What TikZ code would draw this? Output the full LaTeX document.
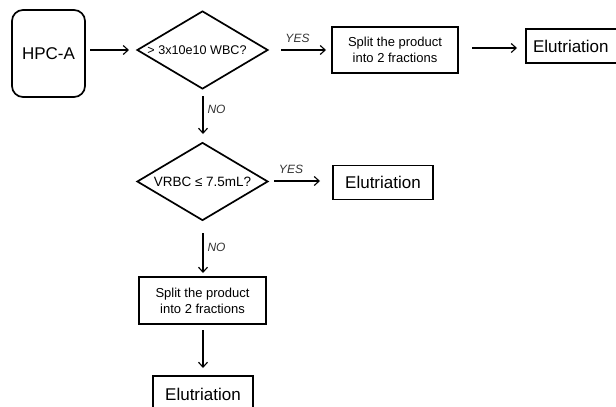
\documentclass[tikz,border=0pt]{standalone}
\usepackage{fontspec}
\setmainfont{Liberation Sans}
\usetikzlibrary{shapes.geometric,arrows.meta}
\begin{document}
\begin{tikzpicture}[x=1pt,y=-1pt,
  box/.style={draw,line width=1.7pt,inner sep=0pt,align=center},
  dia/.style={draw,line width=1.7pt,diamond,aspect=1.68,inner sep=0pt,minimum width=131pt,minimum height=78pt},
  conn/.style={line width=1.1pt,-{Straight Barb[length=5pt,width=9pt,line width=1.1pt]}},
  lbl/.style={font=\fontsize{12}{13}\selectfont\itshape,text=black!80,inner sep=0pt},
  big/.style={font=\fontsize{17}{19}\selectfont},
  small/.style={font=\fontsize{13}{16}\selectfont}]
\useasboundingbox (0,0) rectangle (616,407);
\clip (0,0) rectangle (616,407);
\node[box,rounded corners=11pt,minimum width=73pt,minimum height=87pt,big] (hpc) at (48.5,53.5) {HPC-A};
\node[dia] (d1) at (202.5,50) {};
\node[font=\fontsize{12.6}{15}\selectfont,inner sep=0pt] (t1) at (197,50) {> 3x10e10 WBC?};
\node[box,minimum width=126pt,minimum height=46pt,small] (s1) at (395,50) {Split the product\\into 2 fractions};
\node[box,minimum width=100pt,minimum height=34pt,big,anchor=west] (e1) at (525,46) {\hspace*{-10pt}Elutriation};
\node[dia,font=\fontsize{13.5}{15}\selectfont] (d2) at (202.5,181.5) {VRBC ≤ 7.5mL?};
\node[box,minimum width=100pt,minimum height=34pt,big] (e2) at (383,182.5) {Elutriation};
\node[box,minimum width=127pt,minimum height=47pt,small] (s2) at (202.5,300.5) {Split the product\\into 2 fractions};
\node[box,minimum width=100pt,minimum height=36pt,big] (e3) at (203,394) {Elutriation};
% connectors
\coordinate (a1s) at (90,50); \coordinate (a1e) at (129,50);
\draw[conn] (a1s) -- (a1e);
\coordinate (y1s) at (281,50); \coordinate (y1e) at (326,50);
\draw[conn] (y1s) -- node[lbl,above=7pt,xshift=-6pt] (ly1) {YES} (y1e);
\coordinate (a2s) at (472,48); \coordinate (a2e) at (517,48);
\draw[conn] (a2s) -- (a2e);
\coordinate (n1s) at (203,96); \coordinate (n1e) at (203,134);
\draw[conn] (n1s) -- node[lbl,right=4pt,pos=0.35] (ln1) {NO} (n1e);
\coordinate (y2s) at (274,181); \coordinate (y2e) at (320,181);
\draw[conn] (y2s) -- node[lbl,above=7pt,xshift=-6pt] (ly2) {YES} (y2e);
\coordinate (n2s) at (203,233); \coordinate (n2e) at (203,273);
\draw[conn] (n2s) -- node[lbl,right=4pt,pos=0.35] (ln2) {NO} (n2e);
\coordinate (a3s) at (203,330); \coordinate (a3e) at (203,368);
\draw[conn] (a3s) -- (a3e);
\end{tikzpicture}
\end{document}
